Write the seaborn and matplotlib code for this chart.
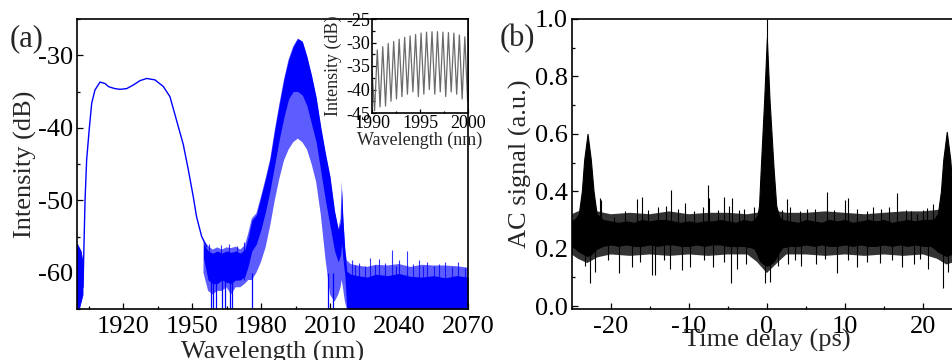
import numpy as np
import pandas as pd
import matplotlib
matplotlib.use("Agg")
import matplotlib.pyplot as plt
import seaborn as sns
from matplotlib.ticker import MultipleLocator

sns.set_theme(style="ticks")
plt.rcParams['font.family'] = ['Liberation Serif', 'DejaVu Serif']
plt.rcParams['axes.unicode_minus'] = False
plt.rcParams['hatch.linewidth'] = 0.8

# ---------------- (a) spectrum ----------------
smooth_wl = [1902.6, 1903.5, 1904.2, 1905.4, 1906.4, 1907.8, 1910.0, 1912.2, 1913.6, 1914.3, 1916.5,
             1918.7, 1921.6, 1924.5, 1927.4, 1930.3, 1933.9, 1937.5, 1940.4, 1943.3, 1946.2, 1948.4,
             1950.6, 1952.0, 1954.2, 1956.4]
smooth_db = [-62.0, -50.0, -44.4, -39.9, -36.6, -34.8, -33.7, -33.9, -34.3, -34.4, -34.6,
             -34.7, -34.6, -34.1, -33.5, -33.2, -33.4, -34.3, -35.7, -39.0, -42.3, -45.8,
             -49.6, -52.3, -55.0, -56.4]

# noisy edge at the start of the scan
edge_wl = [1900.0, 1900.8, 1901.6, 1902.4]
edge_hi = [-56.0, -56.5, -57.0, -58.5]
edge_lo = [-65.0, -65.0, -64.0, -63.0]

# noisy band: outer upper, dense upper, dense lower, outer lower
band_wl = [1955.0, 1957, 1959, 1961, 1963, 1965, 1967, 1969, 1971, 1973, 1974.5, 1976, 1978, 1980,
           1982, 1984, 1986, 1988, 1990, 1992, 1994, 1996, 1998, 2000, 2002, 2004, 2006, 2008,
           2010, 2012, 2013.6, 2014.6, 2015.1, 2015.6, 2016.5, 2017.3, 2019, 2022, 2026, 2030,
           2035, 2040, 2045, 2050, 2055, 2060, 2065, 2070]
band_hi = [-55.5, -56.3, -56.8, -56.5, -56.8, -56.5, -56.6, -56.4, -56.8, -56.2, -54.5, -52.5, -51.8,
           -49.5, -47.0, -44.3, -40.3, -36.7, -33.3, -30.6, -28.8, -27.7, -28.1, -30.2, -32.8, -35.8,
           -39.9, -43.5, -46.7, -51.5, -54.0, -52.5, -47.4, -51.5, -56.5, -58.3, -58.8, -59.0, -59.2,
           -58.9, -59.0, -58.8, -59.2, -58.9, -59.0, -59.0, -59.1, -59.3]
band_dkhi = [-56.0, -57.0, -57.3, -57.0, -57.3, -57.0, -57.2, -57.0, -57.3, -56.8, -55.0, -52.8, -52.0,
             -49.5, -47.0, -44.3, -40.3, -36.7, -33.3, -30.6, -28.8, -27.7, -28.1, -30.2, -32.8, -35.8,
             -39.9, -43.5, -46.7, -51.5, -54.0, -53.0, -48.5, -52.5, -57.0, -59.8, -60.2, -60.4, -60.6,
             -60.2, -60.4, -60.1, -60.5, -60.6, -60.4, -60.7, -60.4, -60.6]
band_dklo = [-58.0, -61.0, -61.5, -61.5, -61.0, -61.3, -61.5, -61.0, -61.0, -60.5, -59.0, -57.0, -56.0,
             -54.0, -51.5, -48.5, -45.0, -41.5, -38.5, -36.0, -35.0, -35.0, -35.5, -37.0, -39.5, -42.0,
             -46.0, -50.0, -53.5, -57.0, -58.5, -57.5, -56.0, -58.0, -60.5, -65.0, -65.0, -65.0, -65.0,
             -65.0, -65.0, -65.0, -65.0, -65.0, -65.0, -65.0, -65.0, -65.0]
band_lo = [-60.0, -62.5, -63.0, -62.5, -62.5, -62.0, -63.0, -62.0, -62.0, -61.5, -61.0, -61.0, -60.0,
           -58.5, -56.5, -53.5, -50.0, -47.0, -44.5, -43.0, -42.0, -41.5, -42.0, -43.0, -45.0, -47.5,
           -52.0, -58.0, -63.0, -64.0, -63.0, -62.0, -61.0, -62.0, -64.0, -65.0, -65.0, -65.0, -65.0,
           -65.0, -65.0, -65.0, -65.0, -65.0, -65.0, -65.0, -65.0, -65.0]

# isolated spikes (wavelength, tip level)
dip_wl = [1958.3, 1959.0, 1960.5, 1962.9, 1964.2, 1966.6, 1967.3, 1976.0, 2009.3, 2011.4]
rise_wl = [1957.5, 1962.5, 1966.0, 1969.5, 1972.5, 2019.4, 2021.0, 2022.5, 2025.0, 2027.4, 2029.5,
           2031.4, 2034.0, 2036.8, 2038.5, 2040.0, 2043.6, 2046.0, 2048.8, 2050.5, 2052.0, 2055.0,
           2057.5, 2060.0, 2063.0, 2065.8, 2068.7]
rise_db = [-56.0, -56.2, -56.0, -56.3, -55.8, -58.2, -58.9, -58.6, -59.0, -58.0, -58.9,
           -58.1, -58.7, -56.8, -59.0, -58.3, -57.0, -58.8, -58.2, -59.1, -58.5, -59.0,
           -58.8, -58.5, -59.2, -58.5, -59.3]

# inset: fine fringes
inset_wl = [1990.00, 1990.27, 1990.55, 1990.84, 1991.12, 1991.41, 1991.69, 1991.98, 1992.26, 1992.55,
            1992.83, 1993.12, 1993.40, 1993.69, 1993.97, 1994.26, 1994.54, 1994.83, 1995.11, 1995.40,
            1995.68, 1995.97, 1996.25, 1996.54, 1996.82, 1997.11, 1997.39, 1997.68, 1997.96, 1998.25,
            1998.53, 1998.82, 1999.10, 1999.39, 1999.67, 1999.96]
inset_db = [-36.0, -44.5, -31.6, -43.7, -30.9, -43.5, -30.2, -42.5, -29.8, -42.0,
            -29.3, -41.5, -28.9, -41.0, -28.6, -40.5, -28.3, -41.5, -28.0, -41.0,
            -27.8, -40.0, -27.7, -41.0, -27.7, -40.5, -27.8, -41.5, -27.9, -40.5,
            -28.0, -41.0, -28.4, -42.0, -28.8, -42.5]

# ---------------- (b) autocorrelation ----------------
ac_t = [-25, -24.5, -24.1, -23.7, -23.4, -22.97, -22.55, -22.2, -21.8, -21, -20, -19, -18, -17, -16,
        -15, -14, -13, -12, -11, -10, -9, -8, -7, -6, -5, -4, -3, -2, -1.6, -1.2, -1.0, -0.77, -0.34,
        0, 0.34, 0.85, 1.2, 1.6, 2, 3, 4, 5, 6, 7, 8, 9, 10, 11, 12, 13, 14, 15, 16, 17, 18, 19, 20,
        21, 21.5, 21.9, 22.3, 22.6, 23.05, 23.5, 23.8, 24.2, 25]
ac_hi = [0.295, 0.305, 0.32, 0.40, 0.51, 0.60, 0.51, 0.40, 0.32, 0.30, 0.295, 0.29, 0.295, 0.29, 0.30,
         0.295, 0.30, 0.30, 0.295, 0.29, 0.295, 0.29, 0.295, 0.295, 0.30, 0.295, 0.29, 0.30, 0.295,
         0.30, 0.315, 0.35, 0.485, 0.72, 0.933, 0.72, 0.485, 0.35, 0.31, 0.30, 0.295, 0.29, 0.30,
         0.295, 0.29, 0.30, 0.295, 0.30, 0.29, 0.295, 0.30, 0.295, 0.30, 0.29, 0.295, 0.30, 0.295,
         0.30, 0.30, 0.305, 0.32, 0.40, 0.51, 0.607, 0.51, 0.40, 0.32, 0.295]
ac_lo = [0.21, 0.20, 0.19, 0.185, 0.18, 0.175, 0.18, 0.19, 0.20, 0.21, 0.215, 0.21, 0.215, 0.21, 0.21,
         0.215, 0.21, 0.215, 0.215, 0.21, 0.21, 0.215, 0.21, 0.215, 0.215, 0.21, 0.21, 0.21, 0.205,
         0.20, 0.18, 0.165, 0.155, 0.145, 0.14, 0.145, 0.155, 0.17, 0.19, 0.205, 0.21, 0.21, 0.215,
         0.21, 0.215, 0.21, 0.21, 0.215, 0.21, 0.215, 0.21, 0.21, 0.215, 0.21, 0.215, 0.21, 0.215,
         0.21, 0.21, 0.20, 0.19, 0.185, 0.18, 0.175, 0.18, 0.185, 0.19, 0.20]

# ragged halo around the noise band
halo_t = [-25, -24.2, -23.0, -21.7, -20, -17.5, -15, -12.5, -10, -7.5, -5, -2.5, -1.3, 0, 1.5, 2.5,
          5, 7.5, 10, 12.5, 15, 17.5, 20, 21.8, 23.0, 24.2, 25]
halo_hi = [0.32, 0.33, 0.335, 0.33, 0.32, 0.325, 0.32, 0.33, 0.32, 0.325, 0.325, 0.32, 0.325,
           0.335, 0.33, 0.325, 0.325, 0.33, 0.325, 0.32, 0.325, 0.33, 0.33, 0.335, 0.34, 0.335, 0.325]
halo_lo = [0.18, 0.165, 0.15, 0.17, 0.18, 0.175, 0.18, 0.175, 0.18, 0.175, 0.18, 0.18, 0.155,
           0.115, 0.155, 0.18, 0.18, 0.175, 0.18, 0.175, 0.18, 0.175, 0.18, 0.165, 0.145, 0.155, 0.17]

up_t = [-23.8, -22.55, -21.4, -21.3, -19.6, -18.2, -16.6, -16.0, -15.2, -14.0, -12.9, -12.3, -11.4,
        -10.5, -9.3, -8.2, -7.56, -7.4, -6.3, -5.55, -4.9, -4.5, -3.6, -2.96, -1.7, 0.0, 1.9, 2.56,
        3.0, 4.3, 5.1, 6.2, 7.68, 8.6, 10.0, 10.4, 11.6, 12.8, 13.65, 14.6, 15.6, 16.7, 17.8, 18.5,
        19.2, 20.0, 20.5, 21.3]
up_v = [0.33, 0.375, 0.375, 0.37, 0.311, 0.33, 0.372, 0.379, 0.335, 0.346, 0.35, 0.404, 0.34,
        0.36, 0.33, 0.346, 0.422, 0.376, 0.335, 0.381, 0.35, 0.375, 0.335, 0.34, 0.345, 1.0, 0.335,
        0.372, 0.345, 0.33, 0.34, 0.34, 0.398, 0.335, 0.369, 0.375, 0.34, 0.33, 0.346, 0.34, 0.345,
        0.393, 0.335, 0.33, 0.32, 0.335, 0.343, 0.355]
down_t = [-23.3, -22.7, -22.0, -20.3, -19.0, -17.3, -16.2, -14.7, -14.3, -13.2, -12.4, -10.9, -9.8,
          -8.0, -6.84, -5.5, -4.6, -3.8, -2.7, -0.2, 0.4, 1.4, 2.7, 3.6, 4.4, 6.3, 7.5, 8.96, 10.4,
          11.5, 12.8, 14.5, 16.0, 17.3, 18.8, 19.6, 20.7, 22.6, 23.2]
down_v = [0.14, 0.079, 0.12, 0.16, 0.114, 0.135, 0.155, 0.108, 0.11, 0.16, 0.13, 0.125, 0.137,
          0.16, 0.137, 0.155, 0.079, 0.13, 0.145, 0.08, 0.085, 0.14, 0.145, 0.16, 0.14, 0.145, 0.165,
          0.114, 0.16, 0.135, 0.155, 0.15, 0.16, 0.135, 0.145, 0.165, 0.13, 0.062, 0.12]

BLUE = '#0000ff'
LIGHT = '#5c5cff'
FS = 19

fig = plt.figure(figsize=(9.52, 3.6), dpi=100)
W, H = 952.0, 360.0
axA = fig.add_axes([77 / W, 1 - 309 / H, 391 / W, 290 / H])
axB = fig.add_axes([571.7 / W, 1 - 309 / H, 390.3 / W, 290 / H])
axI = fig.add_axes([372 / W, 1 - 113 / H, 96 / W, 94 / H])


def style(ax, fs, major_len=4.5, minor_len=2.5):
    for s in ax.spines.values():
        s.set_linewidth(1.2)
        s.set_color('black')
    ax.tick_params(which='both', direction='in', top=False, right=False, width=0.9,
                   labelsize=fs, colors='black', pad=3)
    ax.tick_params(which='major', length=major_len)
    ax.tick_params(which='minor', length=minor_len)
    ax.grid(False)
    ax.set_facecolor('white')


# ---- panel a ----
axA.fill_between(edge_wl, edge_lo, edge_hi, color=BLUE, lw=0.6)
axA.fill_between(band_wl, band_lo, band_hi, facecolor='none', edgecolor=LIGHT, hatch='|' * 24, lw=0)
axA.fill_between(band_wl, band_dklo, band_dkhi, color=BLUE, lw=0)
axA.vlines(dip_wl, -65, -60, color=BLUE, lw=0.9)
axA.vlines(rise_wl, -61, rise_db, color=BLUE, lw=0.8, alpha=0.8)
sns.lineplot(x=smooth_wl, y=smooth_db, ax=axA, color=BLUE, lw=1.0, sort=False, estimator=None)
axA.set_xlim(1900, 2070)
axA.set_ylim(-65, -25)
axA.xaxis.set_major_locator(MultipleLocator(30))
axA.xaxis.set_minor_locator(MultipleLocator(15))
axA.yaxis.set_major_locator(MultipleLocator(10))
axA.yaxis.set_minor_locator(MultipleLocator(5))
axA.set_xticks([1920, 1950, 1980, 2010, 2040, 2070])
style(axA, FS)
axA.tick_params(axis='x', pad=5)
axA.set_xlabel('Wavelength (nm)', fontsize=FS)
axA.set_ylabel('Intensity (dB)', fontsize=FS)
axA.xaxis.set_label_coords(0.5, -0.11)
axA.yaxis.set_label_coords(-0.102, 0.5)

# ---- inset ----
sns.lineplot(x=inset_wl, y=inset_db, ax=axI, color='#6a6a6a', lw=0.9, sort=False, estimator=None)
axI.set_xlim(1990, 2000)
axI.set_ylim(-45, -25)
axI.xaxis.set_major_locator(MultipleLocator(5))
axI.xaxis.set_minor_locator(MultipleLocator(2.5))
axI.yaxis.set_major_locator(MultipleLocator(5))
axI.yaxis.set_minor_locator(MultipleLocator(2.5))
style(axI, 13, major_len=3, minor_len=1.8)
axI.tick_params(pad=1.5)
axI.set_xlabel('Wavelength (nm)', fontsize=13)
axI.set_ylabel('Intensity (dB)', fontsize=13)
axI.xaxis.set_label_coords(0.5, -0.20)
axI.yaxis.set_label_coords(-0.3125, 0.5)

# ---- panel b ----
axB.fill_between(halo_t, halo_lo, halo_hi, facecolor='none', edgecolor='#333333', hatch='|' * 16, lw=0)
axB.fill_between(ac_t, ac_lo, ac_hi, color='black', lw=0.8)
axB.vlines(up_t, 0.27, up_v, color='black', lw=0.8)
axB.vlines(down_t, down_v, 0.23, color='black', lw=0.8)
axB.set_xlim(-25, 25)
axB.set_ylim(-0.01, 1.0)
axB.xaxis.set_major_locator(MultipleLocator(10))
axB.xaxis.set_minor_locator(MultipleLocator(5))
axB.yaxis.set_major_locator(MultipleLocator(0.2))
axB.yaxis.set_minor_locator(MultipleLocator(0.1))
axB.yaxis.set_major_formatter(matplotlib.ticker.FormatStrFormatter('%.1f'))
style(axB, FS)
axB.tick_params(axis='x', pad=5)
axB.set_xlabel('Time delay (ps)', fontsize=FS)
axB.set_ylabel('AC signal (a.u.)', fontsize=FS)
axB.xaxis.set_label_coords(0.5, -0.07)
axB.yaxis.set_label_coords(-0.1017, 0.5)

fig.text(10 / W, 1 - 39 / H, '(a)', fontsize=22, ha='left', va='center')
fig.text(500 / W, 1 - 39 / H, '(b)', fontsize=22, ha='left', va='center')

fig.savefig('out.png', dpi=100)
